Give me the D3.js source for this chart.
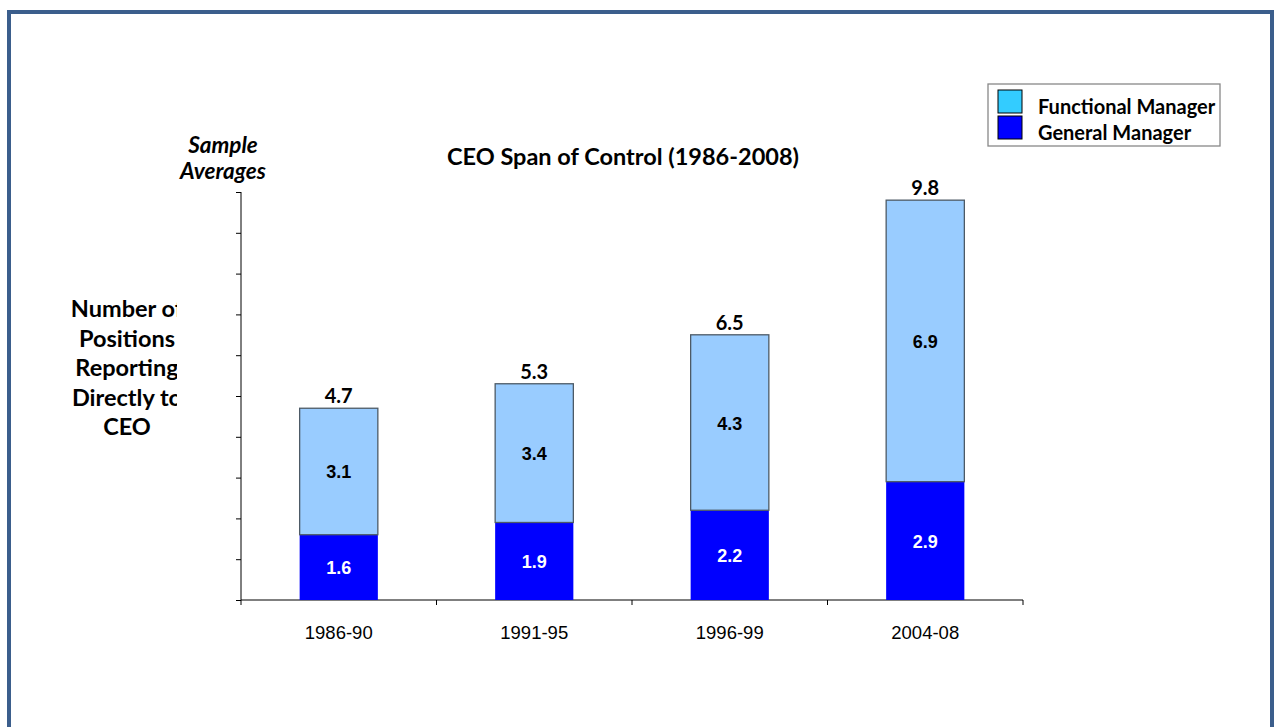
<!DOCTYPE html>
<meta charset="utf-8">
<script src="https://d3js.org/d3.v7.min.js"></script>
<style>
  body { margin: 0; background: #fff; }
  .axis path, .axis line { stroke: #000; }
  .axis text { font-family: "Liberation Sans", Arial, sans-serif; font-size: 18.5px; fill: #000; }
  .cal { font-family: Lato, "Open Sans", sans-serif; font-weight: bold; fill: #000; }
  .val { font-family: "Liberation Sans", Arial, sans-serif; font-weight: bold; font-size: 18px; text-anchor: middle; }
</style>
<body></body>
<script>

var periods = ["1986-90", "1991-95", "1996-99", "2004-08"];
var general = [1.6, 1.9, 2.2, 2.9];
var functional = [3.1, 3.4, 4.3, 6.9];
var totals = [4.7, 5.3, 6.5, 9.8];
var seriesNames = ["Functional Manager", "General Manager"];
var yTicks = d3.range(0, 11);

var W = 1274, H = 727;
var svg = d3.select("body").append("svg")
    .attr("width", W)
    .attr("height", H);

// frame
svg.append("rect")
    .attr("x", 9).attr("y", 12)
    .attr("width", 1263).attr("height", 740)
    .attr("fill", "none")
    .attr("stroke", "#3b5e8c")
    .attr("stroke-width", 4);

var x = d3.scaleBand().domain(periods).range([241, 1023]).paddingInner(0.6).paddingOuter(0.3),
    xb = d3.scaleBand().domain(periods).range([241, 1023]),
    y = d3.scaleLinear().domain([0, 10]).range([600, 192]);

// y axis
svg.append("g")
    .attr("class", "axis")
    .attr("transform", "translate(241,0)")
    .call(d3.axisLeft(y).tickValues(yTicks).tickSize(5).tickFormat(""))
    .call(function(g) { g.select(".domain").attr("d", "M0,192V600"); });

// x axis, ticks on band edges
var xa = svg.append("g")
    .attr("class", "axis")
    .attr("transform", "translate(0,600)");
xa.append("line").attr("x1", 241).attr("x2", 1023).attr("stroke", "#000");
xa.selectAll(".tk")
  .data(periods.concat(["end"]))
  .enter().append("line")
    .attr("x1", function(d, i) { return i < periods.length ? xb(d) : xb.range()[1]; })
    .attr("x2", function(d, i) { return i < periods.length ? xb(d) : xb.range()[1]; })
    .attr("y1", 0).attr("y2", 5)
    .attr("stroke", "#000");
xa.selectAll("text")
  .data(periods)
  .enter().append("text")
    .attr("x", function(d) { return xb(d) + xb.bandwidth() / 2; })
    .attr("y", 39)
    .attr("text-anchor", "middle")
    .text(function(d) { return d; });

// bars
var bars = svg.append("g");
bars.selectAll(".gen")
  .data(periods)
  .enter().append("rect")
    .attr("x", function(d) { return x(d); })
    .attr("width", x.bandwidth())
    .attr("y", function(d, i) { return y(general[i]); })
    .attr("height", function(d, i) { return y(0) - y(general[i]); })
    .attr("fill", "#0000ff");
bars.selectAll(".fun")
  .data(periods)
  .enter().append("rect")
    .attr("x", function(d) { return x(d); })
    .attr("width", x.bandwidth())
    .attr("y", function(d, i) { return y(general[i] + functional[i]); })
    .attr("height", function(d, i) { return y(general[i]) - y(general[i] + functional[i]); })
    .attr("fill", "#99ccff")
    .attr("stroke", "#4d5a66")
    .attr("stroke-width", 1.3);

// value labels
bars.selectAll(".gl")
  .data(periods)
  .enter().append("text")
    .attr("class", "val")
    .attr("fill", "#fff")
    .attr("x", function(d) { return x(d) + x.bandwidth() / 2; })
    .attr("y", function(d, i) { return (y(0) + y(general[i])) / 2 + 7; })
    .text(function(d, i) { return general[i].toFixed(1); });
bars.selectAll(".fl")
  .data(periods)
  .enter().append("text")
    .attr("class", "val")
    .attr("fill", "#000")
    .attr("x", function(d) { return x(d) + x.bandwidth() / 2; })
    .attr("y", function(d, i) { return (y(general[i]) + y(general[i] + functional[i])) / 2 + 7; })
    .text(function(d, i) { return functional[i].toFixed(1); });
bars.selectAll(".tl")
  .data(periods)
  .enter().append("text")
    .attr("class", "cal")
    .attr("text-anchor", "middle")
    .attr("font-size", 20)
    .attr("x", function(d) { return x(d) + x.bandwidth() / 2; })
    .attr("y", function(d, i) { return y(totals[i]) - 5; })
    .text(function(d, i) { return totals[i].toFixed(1); });

// title
svg.append("text")
    .attr("class", "cal")
    .attr("x", 623).attr("y", 165)
    .attr("text-anchor", "middle")
    .attr("font-size", 23.5)
    .text("CEO Span of Control (1986-2008)");

// Sample Averages
svg.append("text")
    .attr("class", "cal")
    .attr("font-style", "italic")
    .attr("text-anchor", "middle")
    .attr("font-size", 22.5)
    .selectAll("tspan")
    .data(["Sample", "Averages"])
    .enter().append("tspan")
      .attr("x", 223)
      .attr("y", function(d, i) { return 153 + i * 26; })
      .text(function(d) { return d; });

// y title, clipped on the right
svg.append("clipPath").attr("id", "yclip")
  .append("rect").attr("x", 20).attr("y", 280).attr("width", 157).attr("height", 170);
svg.append("text")
    .attr("class", "cal")
    .attr("clip-path", "url(#yclip)")
    .attr("text-anchor", "middle")
    .attr("font-size", 23.5)
    .selectAll("tspan")
    .data(["Number of", "Positions", "Reporting", "Directly to", "CEO"])
    .enter().append("tspan")
      .attr("x", 127)
      .attr("y", function(d, i) { return 317 + i * 29.5; })
      .text(function(d) { return d; });

// legend
var lg = svg.append("g");
lg.append("rect")
    .attr("x", 988).attr("y", 84)
    .attr("width", 232).attr("height", 62)
    .attr("fill", "#fff")
    .attr("stroke", "#888")
    .attr("stroke-width", 1.3);
var legendColor = d3.scaleOrdinal().domain(seriesNames).range(["#33ccff", "#0000ff"]);
var li = lg.selectAll(".li")
  .data(seriesNames)
  .enter().append("g")
    .attr("transform", function(d, i) { return "translate(998," + (90 + i * 26) + ")"; });
li.append("rect")
    .attr("width", 24).attr("height", 23)
    .attr("fill", legendColor)
    .attr("stroke", "#000");
li.append("text")
    .attr("class", "cal")
    .attr("x", 40).attr("y", 23.5)
    .attr("font-size", 20)
    .text(function(d) { return d; });

</script>
